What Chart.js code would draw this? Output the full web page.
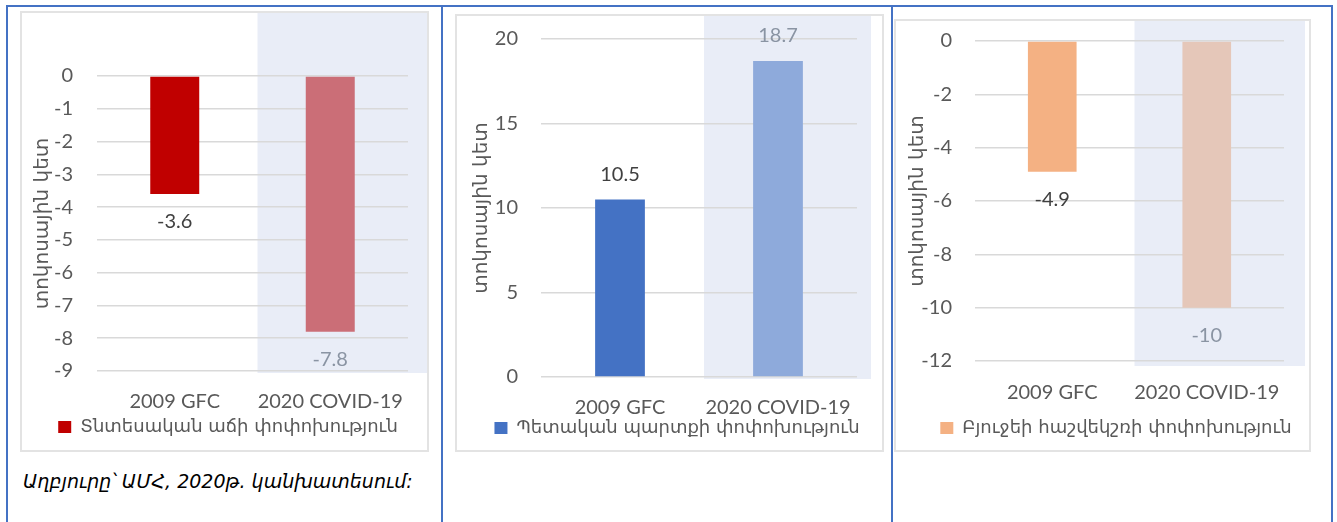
<!DOCTYPE html>
<html><head><meta charset="utf-8">
<script src="https://cdn.jsdelivr.net/npm/chart.js@4.4.1/dist/chart.umd.min.js"></script>
<style>
html,body{margin:0;padding:0;background:#fff}
body{width:1337px;height:522px;overflow:hidden;position:relative}
.bl{position:absolute;background:#4472c4}
.box{position:absolute;border:2px solid #e3e3e3;box-sizing:border-box}
canvas{position:absolute}
.cap{position:absolute;left:23px;top:469px;line-height:24px;font-style:italic;font-size:19px;color:#000;font-family:'DejaVu Sans',sans-serif;white-space:nowrap}
</style></head><body>
<div class="bl" style="left:6px;top:5px;width:1327px;height:2px"></div>
<div class="bl" style="left:6px;top:5px;width:2px;height:517px"></div>
<div class="bl" style="left:441px;top:5px;width:2px;height:517px"></div>
<div class="bl" style="left:891px;top:5px;width:2px;height:517px"></div>
<div class="bl" style="left:1331px;top:5px;width:2px;height:517px"></div>
<div class="box" style="left:20px;top:11px;width:409px;height:441px"></div>
<div class="box" style="left:455px;top:14px;width:429px;height:438px"></div>
<div class="box" style="left:894px;top:19px;width:417px;height:433px"></div>
<canvas id="c1" width="405" height="437" style="left:22px;top:13px"></canvas>
<canvas id="c2" width="425" height="434" style="left:457px;top:16px"></canvas>
<canvas id="c3" width="413" height="429" style="left:896px;top:21px"></canvas>
<div class="cap" id="cap"></div>
<script>
// ---- data ----
const categories = ['2009 GFC', '2020 COVID-19'];
const growthValues = [-3.6, -7.8];
const debtValues = [10.5, 18.7];
const budgetValues = [-4.9, -10];
const growthTicks = [-9, 0, 1];   // min, max, step
const debtTicks = [0, 20, 5];
const budgetTicks = [-12, 0, 2];
const growthLabel = 'Տնտեսական աճի փոփոխություն';
const debtLabel = 'Պետական պարտքի փոփոխություն';
const budgetLabel = 'Բյուջեի հաշվեկշռի փոփոխություն';
const yAxisTitle = 'տոկոսային կետ';
const sourceNote = 'Աղբյուրը՝ ԱՄՀ, 2020թ. կանխատեսում:';

document.getElementById('cap').textContent = sourceNote;

const NUM_FONT = 'Lato, "DejaVu Sans", sans-serif';
const ARM_FONT = '"DejaVu Sans", sans-serif';
const TXT = '#595959';

const highlight = {
  id: 'highlight',
  beforeDraw(chart, args, o) {
    const x = chart.scales.x, ca = chart.chartArea, ctx = chart.ctx;
    const left = (x.getPixelForValue(0) + x.getPixelForValue(1)) / 2 + 5;
    ctx.save();
    ctx.fillStyle = '#e9edf7';
    ctx.fillRect(left, 0, ca.right + o.rightExtra - left, ca.bottom + o.bottomExtra);
    ctx.restore();
  }
};
const valueLabels = {
  id: 'valueLabels',
  afterDatasetsDraw(chart, args, o) {
    const ctx = chart.ctx, meta = chart.getDatasetMeta(0), ds = chart.data.datasets[0];
    ctx.save();
    ctx.font = '20px ' + NUM_FONT;
    ctx.textAlign = 'center';
    ctx.textBaseline = 'middle';
    meta.data.forEach((bar, i) => {
      const v = ds.data[i];
      ctx.fillStyle = o.colors[i];
      ctx.fillText(String(v), bar.x, v < 0 ? bar.y + o.below : bar.y - o.above);
    });
    ctx.restore();
  }
};
const legendPlace = {
  id: 'legendPlace',
  afterLayout(chart, args, o) {
    const lg = chart.legend;
    const w = lg.right - lg.left, h = lg.bottom - lg.top;
    lg.left = o.cx - w / 2; lg.right = lg.left + w;
    lg.top = o.cy - o.pad - o.font / 2; lg.bottom = lg.top + h;
  }
};

function makeChart(id, values, label, colors, ticks, L) {
  const canvas = document.getElementById(id);
  const H = canvas.height, W = canvas.width;
  new Chart(canvas, {
    type: 'bar',
    data: {
      labels: categories,
      datasets: [{
        label: label,
        data: values,
        backgroundColor: colors,
        borderWidth: 0,
        barPercentage: 0.315,
        categoryPercentage: 1
      }]
    },
    plugins: [highlight, valueLabels, legendPlace],
    options: {
      responsive: false,
      animation: false,
      devicePixelRatio: 1,
      layout: { padding: { left: 0, top: L.top, right: W - L.right, bottom: 0 } },
      scales: {
        x: {
          grid: { display: false, drawTicks: false },
          border: { display: false },
          ticks: { color: TXT, font: { family: NUM_FONT, size: 20 }, padding: L.xPad, maxRotation: 0, minRotation: 0, autoSkip: false },
          afterFit(s) { s.height = (H - L.bottom) - s.chart.legend.height; s.paddingLeft = 0; s.paddingRight = 0; }
        },
        y: {
          min: ticks[0], max: ticks[1],
          grid: { color: '#d9d9d9', lineWidth: 1.5, drawTicks: false },
          border: { display: false },
          ticks: { stepSize: ticks[2], color: TXT, font: { family: NUM_FONT, size: 20 }, padding: L.yPad },
          title: { display: true, text: yAxisTitle, color: TXT, font: { family: ARM_FONT, size: 20 }, padding: { top: L.tPad, bottom: 0 } },
          afterFit(s) { s.width = L.left; s.paddingTop = 0; s.paddingBottom = 0; }
        }
      },
      plugins: {
        tooltip: { enabled: false },
        legend: {
          position: 'bottom',
          labels: {
            color: TXT, font: { family: ARM_FONT, size: 18 }, boxWidth: 13, boxHeight: 12, padding: 5,
            generateLabels(chart) {
              const items = Chart.defaults.plugins.legend.labels.generateLabels(chart);
              items.forEach(it => { it.fillStyle = colors[0]; it.strokeStyle = colors[0]; it.lineWidth = 0; });
              return items;
            }
          }
        },
        highlight: { rightExtra: L.shadeR, bottomExtra: L.shadeB },
        valueLabels: { colors: ['#404040', '#8a94a3'], below: 28, above: 25 },
        legendPlace: { cx: L.lcx, cy: L.lcy, pad: 5, font: 18 }
      }
    }
  });
}

makeChart('c1', growthValues, growthLabel, ['#c00000', '#cb6e77'], growthTicks,
  { left: 75, right: 386, top: 63, bottom: 358, yPad: 24, tPad: 9, xPad: 19, lcx: 206, lcy: 414, shadeR: 20, shadeB: 2 });
makeChart('c2', debtValues, debtLabel, ['#4472c4', '#8eaadb'], debtTicks,
  { left: 84, right: 400, top: 23, bottom: 361, yPad: 23, tPad: 13, xPad: 19, lcx: 220, lcy: 412, shadeR: 14, shadeB: 2 });
makeChart('c3', budgetValues, budgetLabel, ['#f4b183', '#e5c7b9'], budgetTicks,
  { left: 79, right: 388, top: 20, bottom: 340, yPad: 23, tPad: 10, xPad: 20, lcx: 220, lcy: 407, shadeR: 21, shadeB: 5 });
</script>
</body></html>
